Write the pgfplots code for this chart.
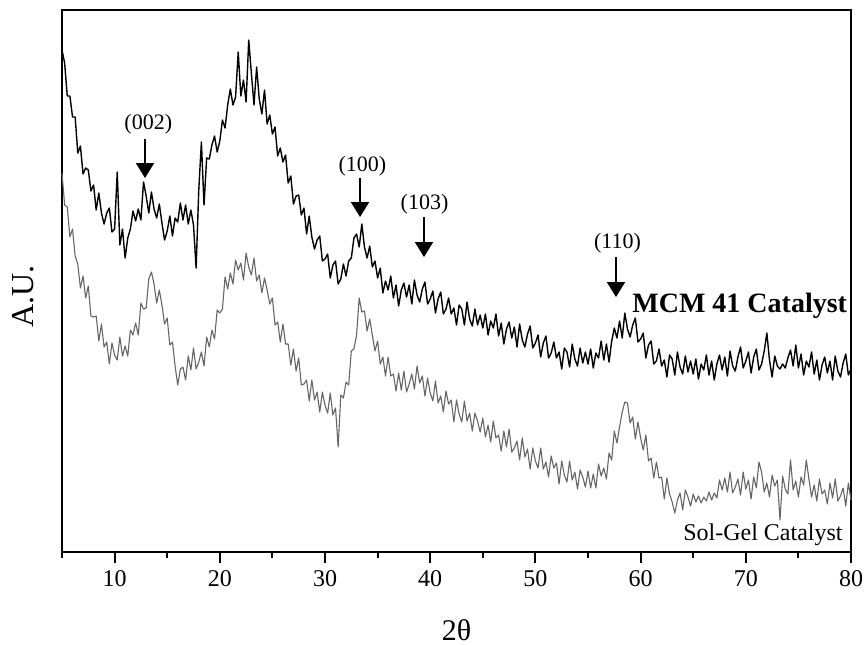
\documentclass[border=0pt]{standalone}
\usepackage{fontspec}
\setmainfont{Liberation Serif}
\usepackage{pgfplots}
\pgfplotsset{compat=1.18}
\usetikzlibrary{arrows.meta,calc}

\begin{document}
\begin{tikzpicture}
\begin{axis}[
    scale only axis, width=394.5pt, height=271pt,
    xmin=5, xmax=80, ymin=10, ymax=552, y dir=reverse,
    axis line style={line width=1.2pt},
    xtick={10,20,...,80}, minor xtick={5,15,...,75}, ytick=\empty,
    xtick pos=bottom, tick align=outside,
    major tick length=5.5pt, minor tick length=3pt,
    tick style={black, line width=1pt},
    /pgf/number format/assume math mode=true,
    ticklabel style={font=\fontsize{12}{14}\selectfont},
    xlabel={2θ}, ylabel={A.U.},
    xlabel style={at={(axis description cs:0.5,-0.144)}, anchor=center, font=\fontsize{15}{17}\selectfont},
    ylabel style={at={(axis description cs:-0.0494,0.472)}, anchor=center, font=\fontsize{16}{18}\selectfont},
    clip=false,
]
% MCM 41 catalyst (upper trace), y in picture units from top
\addplot[black, line width=0.7pt, line join=round] coordinates {
(5,50)(5.25,63)(5.5,96)(5.75,96)(6,117)(6.25,117)(6.5,153)(6.75,146)(7,174)(7.25,168)(7.5,170)(7.75,191)(8,185)(8.25,210)(8.5,193)(8.75,213)(9,224)(9.25,213)(9.5,208)(9.75,232)
(10,229)(10.25,172)(10.5,245)(10.75,229)(11,258)(11.25,238)(11.5,229)(11.75,211)(12,221)(12.25,209)(12.5,220)(12.75,182)(13,196)(13.25,213)(13.5,192)(13.75,209)(14,218)(14.25,204)(14.5,223)(14.75,240)
(15,231)(15.25,216)(15.5,236)(15.75,218)(16,222)(16.25,203)(16.5,220)(16.75,205)(17,224)(17.25,210)(17.5,225)(17.75,268)(18,190)(18.25,142)(18.5,205)(18.75,158)(19,159)(19.25,145)(19.5,136)(19.75,152)
(20,141)(20.25,120)(20.5,128)(20.75,105)(21,89)(21.25,105)(21.5,97)(21.75,52)(22,96)(22.25,80)(22.5,102)(22.75,40)(23,73)(23.25,105)(23.5,67)(23.75,99)(24,114)(24.25,90)(24.5,124)(24.75,115)
(25,134)(25.25,127)(25.5,156)(25.75,148)(26,162)(26.25,155)(26.5,183)(26.75,176)(27,204)(27.25,196)(27.5,195)(27.75,215)(28,208)(28.25,234)(28.5,216)(28.75,237)(29,249)(29.25,240)(29.5,236)(29.75,261)
(30,259)(30.25,254)(30.5,278)(30.75,265)(31,261)(31.25,284)(31.5,279)(31.75,264)(32,276)(32.25,261)(32.5,258)(32.75,238)(33,234)(33.25,247)(33.5,224)(33.75,247)(34,258)(34.25,246)(34.5,267)(34.75,261)
(35,278)(35.25,268)(35.5,293)(35.75,281)(36,290)(36.25,276)(36.5,298)(36.75,285)(37,306)(37.25,290)(37.5,283)(37.75,297)(38,285)(38.25,304)(38.5,280)(38.75,295)(39,302)(39.25,289)(39.5,282)(39.75,304)
(40,299)(40.25,291)(40.5,313)(40.75,299)(41,292)(41.25,314)(41.5,309)(41.75,298)(42,314)(42.25,308)(42.5,325)(42.75,305)(43,309)(43.25,325)(43.5,302)(43.75,319)(44,326)(44.25,309)(44.5,325)(44.75,315)
(45,328)(45.25,314)(45.5,335)(45.75,321)(46,328)(46.25,314)(46.5,336)(46.75,323)(47,344)(47.25,329)(47.5,322)(47.75,338)(48,327)(48.25,347)(48.5,324)(48.75,340)(49,347)(49.25,334)(49.5,326)(49.75,348)
(50,343)(50.25,335)(50.5,357)(50.75,343)(51,336)(51.25,358)(51.5,353)(51.75,342)(52,358)(52.25,352)(52.5,369)(52.75,348)(53,352)(53.25,367)(53.5,344)(53.75,359)(54,366)(54.25,348)(54.5,363)(54.75,352)
(55,364)(55.25,349)(55.5,368)(55.75,353)(56,358)(56.25,341)(56.5,360)(56.75,344)(57,362)(57.25,341)(57.5,328)(57.75,338)(58,321)(58.25,338)(58.5,313)(58.75,329)(59,337)(59.25,325)(59.5,318)(59.75,342)
(60,339)(60.25,333)(60.5,358)(60.75,345)(61,341)(61.25,364)(61.5,361)(61.75,349)(62,366)(62.25,360)(62.5,377)(62.75,355)(63,359)(63.25,375)(63.5,352)(63.75,367)(64,374)(64.25,356)(64.5,372)(64.75,361)
(65,374)(65.25,359)(65.5,379)(65.75,364)(66,370)(66.25,355)(66.5,375)(66.75,361)(67,380)(67.25,364)(67.5,355)(67.75,370)(68,357)(68.25,376)(68.5,351)(68.75,366)(69,371)(69.25,357)(69.5,347)(69.75,368)
(70,361)(70.25,352)(70.5,373)(70.75,357)(71,349)(71.25,370)(71.5,364)(71.75,351)(72,333)(72.25,360)(72.5,377)(72.75,356)(73,366)(73.25,369)(73.5,364)(73.75,368)(74,358)(74.25,350)(74.5,366)(74.75,345)
(75,368)(75.25,354)(75.5,375)(75.75,361)(76,367)(76.25,352)(76.5,374)(76.75,360)(77,380)(77.25,365)(77.5,357)(77.75,373)(78,361)(78.25,380)(78.5,356)(78.75,371)(79,377)(79.25,363)(79.5,354)(79.75,375)(80,369)
};
% Sol-Gel catalyst (lower trace)
\addplot[black!60, line width=0.55pt, line join=round] coordinates {
(5,173)(5.25,205)(5.5,207)(5.75,237)(6,229)(6.25,256)(6.5,264)(6.75,288)(7,276)(7.25,298)(7.5,286)(7.75,316)(8,317)(8.25,316)(8.5,341)(8.75,324)(9,347)(9.25,342)(9.5,364)(9.75,343)
(10,355)(10.25,360)(10.5,337)(10.75,356)(11,346)(11.25,356)(11.5,330)(11.75,335)(12,323)(12.25,335)(12.5,303)(12.75,309)(13,308)(13.25,279)(13.5,272)(13.75,284)(14,303)(14.25,290)(14.5,305)(14.75,324)
(15,318)(15.25,345)(15.5,342)(15.75,366)(16,385)(16.25,369)(16.5,367)(16.75,380)(17,356)(17.25,370)(17.5,348)(17.75,369)(18,362)(18.25,352)(18.5,366)(18.75,337)(19,347)(19.25,330)(19.5,339)(19.75,310)
(20,313)(20.25,309)(20.5,277)(20.75,289)(21,273)(21.25,284)(21.5,260)(21.75,270)(22,263)(22.25,280)(22.5,253)(22.75,267)(23,275)(23.25,258)(23.5,281)(23.75,275)(24,293)(24.25,278)(24.5,290)(24.75,304)
(25,298)(25.25,325)(25.5,322)(25.75,342)(26,324)(26.25,344)(26.5,344)(26.75,365)(27,349)(27.25,371)(27.5,358)(27.75,385)(28,384)(28.25,380)(28.5,401)(28.75,380)(29,400)(29.25,392)(29.5,412)(29.75,392)
(30,405)(30.25,413)(30.5,393)(30.75,415)(31,408)(31.25,447)(31.5,395)(31.75,398)(32,382)(32.25,385)(32.5,351)(32.75,349)(33,335)(33.25,298)(33.5,312)(33.75,311)(34,331)(34.25,319)(34.5,335)(34.75,351)
(35,341)(35.25,364)(35.5,357)(35.75,376)(36,357)(36.25,376)(36.5,374)(36.75,391)(37,373)(37.25,390)(37.5,371)(37.75,392)(38,384)(38.25,374)(38.5,389)(38.75,366)(39,383)(39.25,376)(39.5,396)(39.75,378)
(40,393)(40.25,401)(40.5,381)(40.75,403)(41,396)(41.25,412)(41.5,391)(41.75,404)(42,400)(42.25,422)(42.5,400)(42.75,414)(43,422)(43.25,401)(43.5,421)(43.75,413)(44,431)(44.25,413)(44.5,421)(44.75,432)
(45,418)(45.25,437)(45.5,425)(45.75,442)(46,421)(46.25,438)(46.5,435)(46.75,451)(47,431)(47.25,447)(47.5,429)(47.75,452)(48,448)(48.25,441)(48.5,460)(48.75,438)(49,457)(49.25,449)(49.5,469)(49.75,448)
(50,461)(50.25,468)(50.5,448)(50.75,469)(51,462)(51.25,477)(51.5,456)(51.75,468)(52,463)(52.25,484)(52.5,461)(52.75,475)(53,482)(53.25,461)(53.5,480)(53.75,472)(54,489)(54.25,470)(54.5,477)(54.75,487)
(55,471)(55.25,488)(55.5,474)(55.75,488)(56,464)(56.25,476)(56.5,468)(56.75,479)(57,453)(57.25,460)(57.5,431)(57.75,443)(58,427)(58.25,412)(58.5,402)(58.75,403)(59,423)(59.25,417)(59.5,439)(59.75,422)
(60,438)(60.25,450)(60.5,435)(60.75,461)(61,458)(61.25,478)(61.5,462)(61.75,478)(62,477)(62.25,499)(62.5,478)(62.75,494)(63,502)(63.25,513)(63.5,500)(63.75,493)(64,510)(64.25,490)(64.5,497)(64.75,506)
(65,494)(65.25,502)(65.5,496)(65.75,503)(66,497)(66.25,501)(66.5,492)(66.75,500)(67,493)(67.25,498)(67.5,480)(67.75,490)(68,478)(68.25,492)(68.5,472)(68.75,493)(69,487)(69.25,479)(69.5,495)(69.75,472)
(70,489)(70.25,480)(70.5,499)(70.75,477)(71,488)(71.25,462)(71.5,472)(71.75,492)(72,483)(72.25,497)(72.5,475)(72.75,486)(73,480)(73.25,520)(73.5,476)(73.75,489)(74,494)(74.25,460)(74.5,490)(74.75,481)
(75,497)(75.25,477)(75.5,485)(75.75,460)(76,479)(76.25,497)(76.5,485)(76.75,501)(77,479)(77.25,494)(77.5,490)(77.75,504)(78,483)(78.25,498)(78.5,479)(78.75,501)(79,496)(79.25,488)(79.5,506)(79.75,483)(80,500)
};
% reflection markers
\draw[line width=1pt, -{Triangle[width=9pt,length=7.5pt]}] (axis cs:12.89,139) -- (axis cs:12.89,178);
\node[font=\fontsize{11}{13}\selectfont] at (axis cs:13.2,124.5) {(002)};
\draw[line width=1pt, -{Triangle[width=9pt,length=7.5pt]}] (axis cs:33.33,178) -- (axis cs:33.33,217);
\node[font=\fontsize{11}{13}\selectfont] at (axis cs:33.56,166) {(100)};
\draw[line width=1pt, -{Triangle[width=9pt,length=7.5pt]}] (axis cs:39.41,217) -- (axis cs:39.41,257);
\node[font=\fontsize{11}{13}\selectfont] at (axis cs:39.46,204) {(103)};
\draw[line width=1pt, -{Triangle[width=9pt,length=7.5pt]}] (axis cs:57.66,257) -- (axis cs:57.66,297);
\node[font=\fontsize{11}{13}\selectfont] at (axis cs:57.8,243) {(110)};
\node[anchor=base west, inner sep=0pt, font=\bfseries\fontsize{14}{16}\selectfont] at (axis cs:59.18,312) {MCM 41 Catalyst};
\node[anchor=base east, inner sep=0pt, font=\fontsize{12}{14}\selectfont] at (axis cs:79.24,540) {Sol-Gel Catalyst};
\coordinate (bl) at (axis description cs:0,0);
\coordinate (tr) at (axis description cs:1,1);
\end{axis}
\pgfresetboundingbox
\path[use as bounding box] ($(bl)+(-31pt,-46pt)$) rectangle ($(tr)+(7pt,5pt)$);
\end{tikzpicture}
\end{document}
